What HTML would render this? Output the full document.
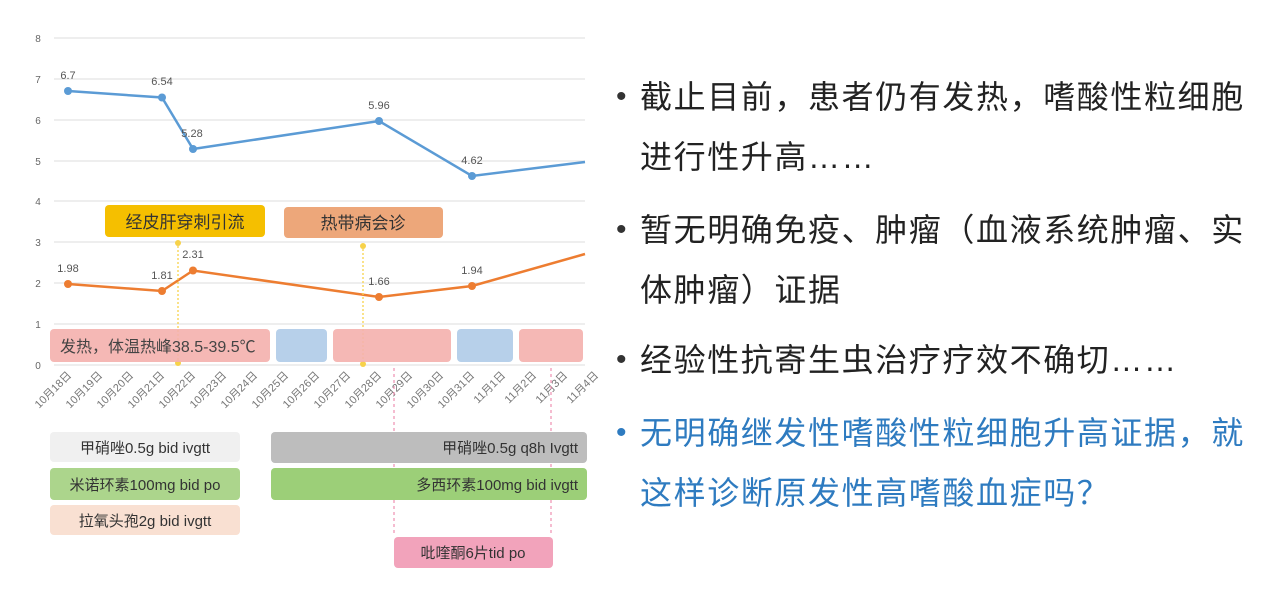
<!DOCTYPE html>
<html><head><meta charset="utf-8"><style>
body{margin:0;width:1267px;height:590px;background:#fff;overflow:hidden;position:relative;font-family:"Liberation Sans","Noto Sans CJK SC",sans-serif}
.t{position:absolute;left:640px;font-size:32px;color:#222;white-space:nowrap;letter-spacing:1.6px;line-height:40px}
.b{position:absolute;left:616px;font-size:30px;color:#333;line-height:40px}
.blue{color:#2e7bc0}
</style></head><body>
<svg width="600" height="590" style="position:absolute;left:0;top:0" font-family="Liberation Sans, Noto Sans CJK SC, sans-serif">
<g stroke="#e4e4e4" stroke-width="1.2">
<line x1="54" x2="585" y1="38" y2="38"/><line x1="54" x2="585" y1="79" y2="79"/><line x1="54" x2="585" y1="120" y2="120"/><line x1="54" x2="585" y1="161" y2="161"/><line x1="54" x2="585" y1="201" y2="201"/><line x1="54" x2="585" y1="242" y2="242"/><line x1="54" x2="585" y1="283" y2="283"/><line x1="54" x2="585" y1="324" y2="324"/><line x1="54" x2="585" y1="365" y2="365"/>
</g>
<g font-size="10" fill="#666" text-anchor="middle">
<text x="38" y="42">8</text><text x="38" y="83">7</text><text x="38" y="124">6</text><text x="38" y="165">5</text><text x="38" y="205">4</text><text x="38" y="246">3</text><text x="38" y="287">2</text><text x="38" y="328">1</text><text x="38" y="369">0</text>
</g>
<polyline points="68,91 162,97.5 193,149 379,121 472,176 585,162" fill="none" stroke="#5b9bd5" stroke-width="2.5"/>
<g fill="#5b9bd5"><circle cx="68" cy="91" r="4"/><circle cx="162" cy="97.5" r="4"/><circle cx="193" cy="149" r="4"/><circle cx="379" cy="121" r="4"/><circle cx="472" cy="176" r="4"/></g>
<polyline points="68,284 162,291 193,270.5 379,297 472,286 585,254" fill="none" stroke="#ed7d31" stroke-width="2.5"/>
<g fill="#ed7d31"><circle cx="68" cy="284" r="4"/><circle cx="162" cy="291" r="4"/><circle cx="193" cy="270.5" r="4"/><circle cx="379" cy="297" r="4"/><circle cx="472" cy="286" r="4"/></g>
<g font-size="11" fill="#555" text-anchor="middle">
<text x="68" y="79">6.7</text><text x="162" y="85">6.54</text><text x="192" y="137">5.28</text><text x="379" y="109">5.96</text><text x="472" y="164">4.62</text>
<text x="68" y="272">1.98</text><text x="162" y="279">1.81</text><text x="193" y="258">2.31</text><text x="379" y="285">1.66</text><text x="472" y="274">1.94</text>
</g>
<rect x="105" y="205" width="160" height="32" rx="4" fill="#f5bf00"/>
<text x="185" y="228" font-size="17" text-anchor="middle" fill="#333">经皮肝穿刺引流</text>
<rect x="284" y="207" width="159" height="31" rx="4" fill="#eda77a"/>
<text x="363" y="229" font-size="17" text-anchor="middle" fill="#333">热带病会诊</text>
<g stroke="#f7d24a" stroke-dasharray="2,2" stroke-width="1.3"><line x1="178" x2="178" y1="242" y2="365"/><line x1="363" x2="363" y1="245" y2="365"/></g>
<g fill="#f7d24a"><circle cx="178" cy="243" r="3"/><circle cx="178" cy="363" r="3"/><circle cx="363" cy="246" r="3"/><circle cx="363" cy="364" r="3"/></g>
<rect x="50" y="329" width="220" height="33" rx="4" fill="#f4b0ad" opacity=".9"/>
<rect x="276" y="329" width="51" height="33" rx="4" fill="#b7d0ea"/>
<rect x="333" y="329" width="118" height="33" rx="4" fill="#f4b0ad" opacity=".9"/>
<rect x="457" y="329" width="56" height="33" rx="4" fill="#b7d0ea"/>
<rect x="519" y="329" width="64" height="33" rx="4" fill="#f4b0ad" opacity=".9"/>
<text x="60" y="352" font-size="16" fill="#444">发热，体温热峰38.5-39.5℃</text>
<g font-size="11" fill="#777" text-anchor="end">
<text transform="translate(72,376) rotate(-45)">10月18日</text>
<text transform="translate(103,376) rotate(-45)">10月19日</text>
<text transform="translate(134,376) rotate(-45)">10月20日</text>
<text transform="translate(165,376) rotate(-45)">10月21日</text>
<text transform="translate(196,376) rotate(-45)">10月22日</text>
<text transform="translate(227,376) rotate(-45)">10月23日</text>
<text transform="translate(258,376) rotate(-45)">10月24日</text>
<text transform="translate(289,376) rotate(-45)">10月25日</text>
<text transform="translate(320,376) rotate(-45)">10月26日</text>
<text transform="translate(351,376) rotate(-45)">10月27日</text>
<text transform="translate(382,376) rotate(-45)">10月28日</text>
<text transform="translate(413,376) rotate(-45)">10月29日</text>
<text transform="translate(444,376) rotate(-45)">10月30日</text>
<text transform="translate(475,376) rotate(-45)">10月31日</text>
<text transform="translate(506,376) rotate(-45)">11月1日</text>
<text transform="translate(537,376) rotate(-45)">11月2日</text>
<text transform="translate(568,376) rotate(-45)">11月3日</text>
<text transform="translate(599,376) rotate(-45)">11月4日</text>
</g>
<g stroke="#ee8fb0" stroke-dasharray="3,3" stroke-width="1.2"><line x1="394" x2="394" y1="368" y2="535"/><line x1="551" x2="551" y1="368" y2="535"/></g>
<rect x="50" y="432" width="190" height="30" rx="4" fill="#f0f0f0"/>
<text x="145" y="453" font-size="15" text-anchor="middle" fill="#333">甲硝唑0.5g bid ivgtt</text>
<rect x="50" y="468" width="190" height="32" rx="4" fill="#acd58c"/>
<text x="145" y="490" font-size="15" text-anchor="middle" fill="#333">米诺环素100mg bid po</text>
<rect x="50" y="505" width="190" height="30" rx="4" fill="#f9e0d2"/>
<text x="145" y="526" font-size="15" text-anchor="middle" fill="#333">拉氧头孢2g bid ivgtt</text>
<rect x="271" y="432" width="316" height="31" rx="4" fill="#bdbdbd"/>
<text x="578" y="453" font-size="15" text-anchor="end" fill="#333">甲硝唑0.5g q8h Ivgtt</text>
<rect x="271" y="468" width="316" height="32" rx="4" fill="#9ccf78"/>
<text x="578" y="490" font-size="15" text-anchor="end" fill="#333">多西环素100mg bid ivgtt</text>
<rect x="394" y="537" width="159" height="31" rx="4" fill="#f2a3bb"/>
<text x="473" y="558" font-size="15" text-anchor="middle" fill="#333">吡喹酮6片tid po</text>
</svg>
<div class="b" style="top:77px">•</div><div class="t" style="top:77px">截止目前，患者仍有发热，嗜酸性粒细胞</div>
<div class="t" style="top:137px">进行性升高……</div>
<div class="b" style="top:210px">•</div><div class="t" style="top:210px">暂无明确免疫、肿瘤（血液系统肿瘤、实</div>
<div class="t" style="top:270px">体肿瘤）证据</div>
<div class="b" style="top:340px">•</div><div class="t" style="top:340px">经验性抗寄生虫治疗疗效不确切……</div>
<div class="b blue" style="top:413px">•</div><div class="t blue" style="top:413px">无明确继发性嗜酸性粒细胞升高证据，就</div>
<div class="t blue" style="top:473px">这样诊断原发性高嗜酸血症吗？</div>
</body></html>
